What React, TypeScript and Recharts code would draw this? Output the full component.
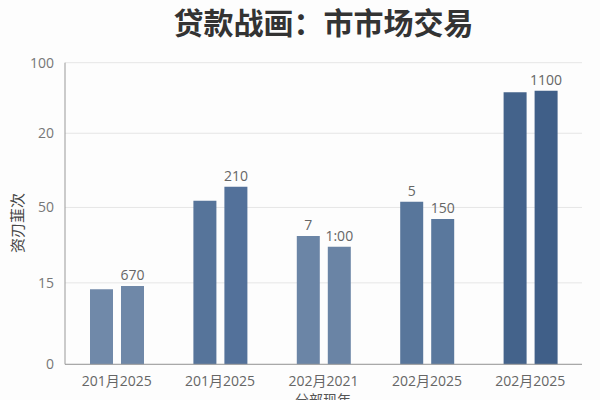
import { BarChart, Bar, XAxis, YAxis, CartesianGrid, LabelList, Cell } from "recharts";

const categories = ["201月2025", "201月2025", "202月2021", "202月2025", "202月2025"];
const seriesA = [24.9, 54.2, 42.5, 53.9, 90.2];
const seriesB = [26.0, 58.9, 39.0, 48.2, 90.7];
const labelsA = ["", "", "7", "5", ""];
const labelsB = ["670", "210", "1:00", "150", "1100"];
const colorsA = ["#7089a9", "#56749a", "#6b85a6", "#58769b", "#44638b"];
const colorsB = ["#6f88a8", "#53719a", "#6a84a5", "#5a789d", "#405f88"];
const yTickValues = [0, 27, 52, 76.6, 100];
const yTickLabels = ["0", "15", "50", "20", "100"];

const data = categories.map((c, i) => ({
  name: c,
  a: seriesA[i],
  b: seriesB[i],
  la: labelsA[i],
  lb: labelsB[i],
}));

const font = '"Noto Sans CJK SC", "Noto Sans", sans-serif';
const tickFont = '"Open Sans", "Noto Sans CJK SC", sans-serif';

const App = () => {
  return (
    <div style={{ position: "absolute", left: 0, top: 0, width: 600, height: 400, background: "#fdfdfd", fontFamily: font, overflow: "hidden" }}>
      <div
        style={{
          position: "absolute",
          left: 65,
          width: 517,
          top: 6,
          textAlign: "center",
          fontSize: 30,
          lineHeight: "30px",
          fontWeight: 700,
          color: "#333",
        }}
      >
        贷款战画：市市场交易
      </div>
      <div
        style={{
          position: "absolute",
          left: 16,
          top: 223,
          transform: "translate(-50%, -50%) rotate(-90deg)",
          fontSize: 15,
          color: "#444",
          whiteSpace: "nowrap",
        }}
      >
        资刃韮次
      </div>
      <div
        style={{
          position: "absolute",
          left: 323,
          top: 392,
          transform: "translateX(-50%)",
          fontSize: 14,
          lineHeight: "14px",
          color: "#555",
          whiteSpace: "nowrap",
        }}
      >
        分部现年
      </div>
      <BarChart
        width={600}
        height={400}
        data={data}
        margin={{ top: 62.7, right: 18, left: 8, bottom: 5.7 }}
        barSize={23}
        barGap={8}
        style={{ position: "absolute", left: 0, top: 0 }}
      >
        <CartesianGrid vertical={false} stroke="#e6e6e6" />
        <XAxis
          dataKey="name"
          height={30}
          tickSize={0}
          tickMargin={12}
          interval={0}
          axisLine={{ stroke: "#999" }}
          tick={{ fontSize: 14, fill: "#666", fontFamily: tickFont }}
          allowDuplicatedCategory={true}
        />
        <YAxis
          width={57}
          domain={[0, 100]}
          ticks={yTickValues}
          tickFormatter={(v: number) => yTickLabels[yTickValues.indexOf(v)] ?? ""}
          tickSize={0}
          tickMargin={11}
          axisLine={{ stroke: "#999" }}
          tick={{ fontSize: 14, fill: "#777", fontFamily: tickFont }}
        />
        <Bar dataKey="a" isAnimationActive={false}>
          {data.map((_, i) => (
            <Cell key={i} fill={colorsA[i]} />
          ))}
          <LabelList dataKey="la" position="top" offset={6} fill="#666" fontSize={14} fontFamily={tickFont} />
        </Bar>
        <Bar dataKey="b" isAnimationActive={false}>
          {data.map((_, i) => (
            <Cell key={i} fill={colorsB[i]} />
          ))}
          <LabelList dataKey="lb" position="top" offset={6} fill="#666" fontSize={14} fontFamily={tickFont} />
        </Bar>
      </BarChart>
    </div>
  );
};

export default App;
